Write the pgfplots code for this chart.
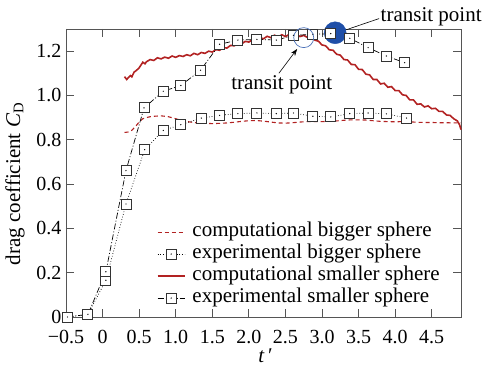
\documentclass[border=0pt]{standalone}
\usepackage{fontspec}
\setmainfont{Liberation Serif}
\usepackage{pgfplots}
\pgfplotsset{compat=1.18}
\usetikzlibrary{arrows.meta}
\definecolor{cred}{HTML}{B22222}
\definecolor{tblue}{HTML}{1F4FA8}
\definecolor{frame}{HTML}{555555}
\pgfdeclareplotmark{sqdot}{%
  \pgfpathrectangle{\pgfqpoint{-\pgfplotmarksize}{-\pgfplotmarksize}}{\pgfqpoint{2\pgfplotmarksize}{2\pgfplotmarksize}}%
  \pgfusepathqfillstroke
  \begin{pgfscope}%
  \pgfsetfillcolor{black}%
  \pgfpathcircle{\pgfpointorigin}{0.7pt}%
  \pgfusepathqfill
  \end{pgfscope}}
\begin{document}
\begin{tikzpicture}[font=\fontsize{21}{25}\selectfont]
\begin{axis}[
  scale only axis, width=395pt, height=288pt,
  xmin=-0.5, xmax=4.9, ymin=0, ymax=1.3,
  xtick={-0.5,0,0.5,1,1.5,2,2.5,3,3.5,4,4.5},
  xticklabels={−0.5,0,0.5,1.0,1.5,2.0,2.5,3.0,3.5,4.0,4.5},
  ytick={0,0.2,0.4,0.6,0.8,1.0,1.2},
  yticklabels={0,0.2,0.4,0.6,0.8,1.0,1.2},
  tick label style={font=\fontsize{20}{24}\selectfont},
  xticklabel style={yshift=-10pt},
  yticklabel style={xshift=-1pt},
  tick align=inside, major tick length=8pt,
  axis line style={frame, line width=0.8pt},
  tick style={frame, line width=0.8pt},
  clip=false,
  xlabel={\textit{t}\,\char"2032},
  xlabel style={at={(axis description cs:0.505,-0.136)}, anchor=center, inner sep=0pt},
  ylabel={drag coefficient \textit{C}\textsubscript{D}},
  ylabel style={at={(axis description cs:-0.129,0.462)}, anchor=center},
  legend image code/.code={\draw[mark repeat=2,mark phase=2,#1] plot coordinates {(0pt,0pt) (13.5pt,0pt) (27pt,0pt)};\path (33pt,0pt);},
  legend style={at={(0.222,0.338)}, anchor=north west, draw=none, fill=none,
    font=\fontsize{21}{25}\selectfont, row sep=1.5pt,
    nodes={inner sep=1pt, text height=14pt, text depth=4.5pt}},
  legend cell align=left,
]
% computational bigger sphere
\addplot[cred, line width=1.1pt, dash pattern=on 4pt off 3pt, mark=none] coordinates {
(0.30,0.833)(0.35,0.835)(0.40,0.843)(0.45,0.860)(0.50,0.880)(0.55,0.895)(0.60,0.900)
(0.65,0.904)(0.70,0.906)(0.80,0.908)(0.90,0.904)(1.00,0.895)(1.10,0.885)(1.20,0.880)
(1.30,0.876)(1.40,0.874)(1.50,0.873)(1.60,0.874)(1.70,0.876)(1.80,0.879)(1.90,0.883)
(2.00,0.886)(2.10,0.887)(2.20,0.884)(2.30,0.880)(2.40,0.876)(2.50,0.875)(2.60,0.877)
(2.70,0.880)(2.80,0.882)(2.90,0.882)(3.00,0.882)(3.10,0.883)(3.20,0.885)(3.30,0.888)
(3.40,0.890)(3.50,0.890)(3.60,0.889)(3.70,0.886)(3.80,0.883)(3.90,0.882)(4.00,0.881)
(4.10,0.882)(4.20,0.881)(4.30,0.879)(4.40,0.878)(4.50,0.878)(4.60,0.877)(4.70,0.877)
(4.80,0.876)(4.90,0.876)};
\addlegendentry{computational bigger sphere}
% experimental bigger sphere
\addplot[black, line width=0.7pt, dotted, mark=sqdot, mark size=5pt,
  mark options={solid, draw=black!80, fill=white, line width=0.9pt}] coordinates {
(-0.48,0)(-0.20,0.012)(0.045,0.166)(0.32,0.51)(0.576,0.755)(0.83,0.842)(1.07,0.868)
(1.35,0.898)(1.60,0.910)(1.85,0.918)(2.11,0.921)(2.375,0.918)(2.61,0.921)(2.875,0.906)
(3.12,0.903)(3.38,0.918)(3.63,0.921)(3.88,0.917)(4.155,0.898)};
\addlegendentry{experimental bigger sphere}
% computational smaller sphere
\addplot[cred, line width=1.6pt, mark=none] coordinates {
(0.30,1.085)(0.33,1.072)(0.35,1.080)(0.38,1.090)(0.40,1.084)(0.43,1.105)(0.45,1.110)
(0.48,1.118)(0.50,1.125)(0.53,1.140)(0.55,1.150)(0.58,1.143)(0.60,1.152)(0.65,1.162)
(0.70,1.158)(0.75,1.170)(0.80,1.165)(0.85,1.173)(0.90,1.168)(0.95,1.178)(1.00,1.172)
(1.05,1.180)(1.10,1.176)(1.15,1.184)(1.20,1.179)(1.25,1.190)(1.30,1.184)(1.35,1.194)
(1.40,1.190)(1.45,1.200)(1.50,1.196)(1.55,1.207)(1.60,1.204)(1.65,1.216)(1.70,1.214)
(1.75,1.226)(1.80,1.224)(1.85,1.236)(1.90,1.233)(1.95,1.244)(2.00,1.241)(2.05,1.252)
(2.10,1.248)(2.15,1.261)(2.20,1.256)(2.25,1.267)(2.30,1.261)(2.35,1.272)(2.40,1.264)
(2.45,1.274)(2.50,1.266)(2.55,1.275)(2.60,1.268)(2.65,1.274)(2.70,1.266)(2.75,1.271)
(2.80,1.262)(2.85,1.262)(2.90,1.250)(2.95,1.245)(3.00,1.228)(3.05,1.224)(3.10,1.206)
(3.15,1.204)(3.20,1.186)(3.25,1.182)(3.30,1.162)(3.35,1.160)(3.40,1.140)(3.45,1.139)
(3.50,1.118)(3.55,1.117)(3.60,1.096)(3.65,1.093)(3.70,1.072)(3.75,1.072)(3.80,1.052)
(3.85,1.055)(3.90,1.037)(3.95,1.040)(4.00,1.022)(4.05,1.022)(4.10,1.003)(4.15,1.000)
(4.20,0.980)(4.25,0.980)(4.30,0.960)(4.35,0.962)(4.40,0.948)(4.45,0.953)(4.50,0.940)
(4.55,0.942)(4.60,0.928)(4.65,0.928)(4.70,0.912)(4.75,0.910)(4.80,0.895)(4.85,0.885)
(4.88,0.868)(4.90,0.846)};
\addlegendentry{computational smaller sphere}
% filled transit point (behind squares)
\addplot[forget plot, only marks, mark=*, mark size=11pt, color=tblue] coordinates {(3.18,1.283)};
% experimental smaller sphere
\addplot[black, line width=0.7pt, dash pattern=on 6pt off 2pt on 1pt off 2pt, mark=sqdot, mark size=5pt,
  mark options={solid, draw=black!80, fill=white, line width=0.9pt}] coordinates {
(-0.48,0)(-0.20,0.012)(0.045,0.204)(0.32,0.661)(0.567,0.944)(0.83,1.019)(1.07,1.045)
(1.34,1.114)(1.60,1.231)(1.85,1.250)(2.11,1.253)(2.375,1.250)(2.61,1.271)(2.875,1.276)
(3.12,1.279)(3.38,1.258)(3.63,1.216)(3.88,1.178)(4.13,1.148)};
\addlegendentry{experimental smaller sphere}
% hollow transit point
\addplot[forget plot, only marks, mark=o, mark size=10pt, mark options={draw=tblue!80, line width=0.7pt}] coordinates {(2.75,1.261)};
% annotations
\node[anchor=west, inner sep=0pt] at (axis cs:3.80,1.357) {transit point};
\draw[-{Stealth[length=7pt,width=5pt]}, line width=0.6pt] (axis cs:3.78,1.347) -- (axis cs:3.22,1.284);
\node[anchor=center, inner sep=0pt] at (axis cs:2.45,1.049) {transit point};
\draw[-{Stealth[length=7pt,width=5pt]}, line width=0.6pt] (axis cs:2.41,1.10) -- (axis cs:2.66,1.21);
\end{axis}
\pgfresetboundingbox
\path[use as bounding box] ([shift={(-66pt,-49pt)}]current axis.south west) rectangle ([shift={(22pt,29pt)}]current axis.north east);
\end{tikzpicture}
\end{document}
